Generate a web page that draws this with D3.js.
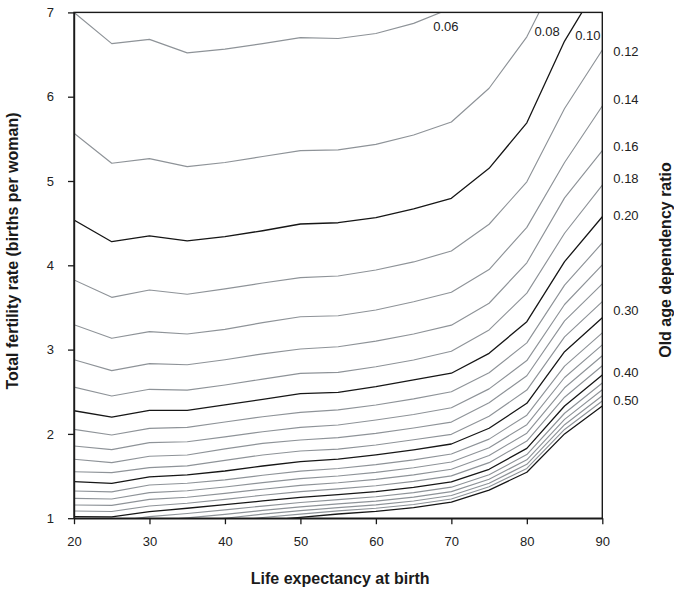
<!DOCTYPE html>
<html>
<head>
<meta charset="utf-8">
<script src="https://cdn.jsdelivr.net/npm/d3@7"></script>
<style>
  html, body { margin: 0; padding: 0; background: #fff; }
  svg { display: block; font-family: "Liberation Sans", Arial, Helvetica, sans-serif; }
</style>
</head>
<body>
<svg id="chart" width="674" height="591"></svg>
<script>
// Life expectancy at birth (x grid shared by every contour)
const lifeExpectancy = [20, 25, 30, 35, 40, 45, 50, 55, 60, 65, 70, 75, 80, 85, 90];

// Total fertility rate giving each old age dependency ratio, one array per contour level
const tfr06 = [7.00, 6.63, 6.68, 6.52, 6.565, 6.63, 6.70, 6.69, 6.75, 6.87, 7.05, 7.55, 8.25, 9.2, 10.2];
const tfr08 = [5.566, 5.21, 5.265, 5.17, 5.22, 5.29, 5.36, 5.37, 5.435, 5.545, 5.70, 6.10, 6.71, 7.60, 8.40];
const tfr10 = [4.537, 4.28, 4.35, 4.29, 4.34, 4.41, 4.49, 4.505, 4.565, 4.67, 4.795, 5.15, 5.69, 6.66, 7.40];
const tfr12 = [3.826, 3.62, 3.707, 3.656, 3.72, 3.79, 3.853, 3.873, 3.944, 4.04, 4.17, 4.487, 4.99, 5.86, 6.554];
const tfr14 = [3.295, 3.134, 3.213, 3.185, 3.24, 3.32, 3.39, 3.402, 3.47, 3.568, 3.68, 3.95, 4.45, 5.22, 5.89];
const tfr16 = [2.88, 2.75, 2.833, 2.82, 2.88, 2.95, 3.007, 3.034, 3.10, 3.185, 3.29, 3.55, 4.03, 4.80, 5.36];
const tfr18 = [2.555, 2.45, 2.529, 2.52, 2.58, 2.65, 2.718, 2.73, 2.797, 2.877, 2.98, 3.233, 3.67, 4.38, 4.95];
const tfr20 = [2.275, 2.20, 2.28, 2.28, 2.345, 2.41, 2.478, 2.493, 2.56, 2.64, 2.72, 2.956, 3.331, 4.043, 4.576];
const tfr22 = [2.054, 1.987, 2.066, 2.078, 2.141, 2.204, 2.256, 2.285, 2.343, 2.415, 2.50, 2.725, 3.08, 3.765, 4.265];
const tfr24 = [1.857, 1.813, 1.896, 1.907, 1.964, 2.026, 2.078, 2.105, 2.165, 2.23, 2.31, 2.534, 2.87, 3.535, 4.005];
const tfr26 = [1.699, 1.66, 1.735, 1.75, 1.823, 1.888, 1.928, 1.955, 2.007, 2.07, 2.14, 2.369, 2.69, 3.34, 3.78];
const tfr28 = [1.551, 1.54, 1.60, 1.62, 1.686, 1.75, 1.797, 1.82, 1.868, 1.93, 1.995, 2.209, 2.52, 3.15, 3.57];
const tfr30 = [1.433, 1.414, 1.49, 1.513, 1.56, 1.619, 1.67, 1.70, 1.75, 1.81, 1.88, 2.067, 2.363, 2.975, 3.378];
const tfr32 = [1.323, 1.312, 1.394, 1.414, 1.454, 1.509, 1.558, 1.59, 1.635, 1.692, 1.761, 1.938, 2.222, 2.804, 3.198];
const tfr34 = [1.236, 1.228, 1.303, 1.326, 1.37, 1.422, 1.47, 1.50, 1.543, 1.599, 1.666, 1.836, 2.109, 2.669, 3.056];
const tfr36 = [1.157, 1.152, 1.224, 1.248, 1.294, 1.344, 1.39, 1.42, 1.46, 1.514, 1.58, 1.743, 2.008, 2.547, 2.927];
const tfr38 = [1.085, 1.08, 1.145, 1.177, 1.224, 1.272, 1.316, 1.348, 1.385, 1.437, 1.502, 1.659, 1.915, 2.435, 2.809];
const tfr40 = [1.018, 1.015, 1.077, 1.118, 1.16, 1.205, 1.248, 1.28, 1.315, 1.365, 1.43, 1.58, 1.829, 2.331, 2.70];
const tfr42 = [0.961, 0.959, 1.018, 1.056, 1.098, 1.144, 1.186, 1.22, 1.254, 1.303, 1.368, 1.516, 1.755, 2.245, 2.604];
const tfr44 = [0.913, 0.912, 0.968, 1.004, 1.045, 1.092, 1.134, 1.17, 1.202, 1.25, 1.315, 1.462, 1.693, 2.172, 2.523];
const tfr46 = [0.872, 0.871, 0.925, 0.959, 1.0, 1.048, 1.089, 1.126, 1.158, 1.204, 1.269, 1.415, 1.639, 2.109, 2.453];
const tfr48 = [0.835, 0.834, 0.886, 0.918, 0.958, 1.008, 1.048, 1.087, 1.118, 1.163, 1.228, 1.373, 1.59, 2.053, 2.39];
const tfr50 = [0.80, 0.80, 0.85, 0.88, 0.92, 0.97, 1.01, 1.05, 1.08, 1.125, 1.19, 1.334, 1.545, 2.0, 2.331];

// Contour levels (old age dependency ratio) in the same order as the arrays above
const ratioLevels = [0.06, 0.08, 0.10, 0.12, 0.14, 0.16, 0.18, 0.20, 0.22, 0.24, 0.26, 0.28,
                     0.30, 0.32, 0.34, 0.36, 0.38, 0.40, 0.42, 0.44, 0.46, 0.48, 0.50];
const fertilitySeries = [tfr06, tfr08, tfr10, tfr12, tfr14, tfr16, tfr18, tfr20, tfr22, tfr24, tfr26, tfr28,
                         tfr30, tfr32, tfr34, tfr36, tfr38, tfr40, tfr42, tfr44, tfr46, tfr48, tfr50];
// Levels drawn as dark lines
const majorLevels = [0.10, 0.20, 0.30, 0.40, 0.50];

// Axis ticks
const xTicks = [20, 30, 40, 50, 60, 70, 80, 90];
const yTicks = [1, 2, 3, 4, 5, 6, 7];

// Level labels: along the top edge and down the right side
const topLabelLevels = [0.06, 0.08, 0.10];
const topLabelAt = [[67.6, 6.78], [81.0, 6.72], [86.4, 6.67]];   // [life expectancy, TFR] of text start
const sideLabelLevels = [0.12, 0.14, 0.16, 0.18, 0.20, 0.30, 0.40, 0.50];
const sideLabelTfr = [6.534, 5.973, 5.404, 5.036, 4.586, 3.46, 2.727, 2.40];

const contours = ratioLevels.map((level, i) => ({
  level,
  major: majorLevels.some(m => Math.abs(m - level) < 1e-9),
  points: lifeExpectancy.map((e, j) => [e, fertilitySeries[i][j]])
}));

const svg = d3.select("#chart");
const W = 674, H = 591;
const margin = { top: 12.4, right: 71.7, bottom: 72.8, left: 74 };
const plotW = W - margin.left - margin.right;
const plotH = H - margin.top - margin.bottom;

const x = d3.scaleLinear().domain([20, 90]).range([margin.left, margin.left + plotW]);
const y = d3.scaleLinear().domain([1, 7]).range([margin.top + plotH, margin.top]);

svg.append("defs").append("clipPath").attr("id", "plot-clip")
  .append("rect")
  .attr("x", x(20)).attr("y", y(7))
  .attr("width", x(90) - x(20)).attr("height", y(1) - y(7));

const line = d3.line().x(d => x(d[0])).y(d => y(d[1]));

// Gray contours first, dark contours on top
const lines = svg.append("g").attr("clip-path", "url(#plot-clip)");
lines.selectAll("path")
  .data(contours.slice().sort((a, b) => a.major - b.major))
  .join("path")
  .attr("d", d => line(d.points))
  .attr("fill", "none")
  .attr("stroke", d => d.major ? "#161616" : "#8e9398")
  .attr("stroke-width", d => d.major ? 1.3 : 1.15)
  .attr("stroke-linejoin", "round");

// Frame
svg.append("rect")
  .attr("x", x(20)).attr("y", y(7))
  .attr("width", x(90) - x(20)).attr("height", y(1) - y(7))
  .attr("fill", "none").attr("stroke", "#1a1a1a").attr("stroke-width", 1.4);

// Axes
const fmt = d3.format("d");
const xAxis = svg.append("g")
  .attr("transform", `translate(0,${y(1)})`)
  .call(d3.axisBottom(x).tickValues(xTicks).tickFormat(fmt).tickSize(6).tickPadding(13).tickSizeOuter(0));
const yAxis = svg.append("g")
  .attr("transform", `translate(${x(20)},0)`)
  .call(d3.axisLeft(y).tickValues(yTicks).tickFormat(fmt).tickSize(6).tickPadding(14).tickSizeOuter(0));

[xAxis, yAxis].forEach(g => {
  g.select(".domain").attr("stroke", "#1a1a1a").attr("stroke-width", 1.4);
  g.selectAll(".tick line").attr("stroke", "#1a1a1a").attr("stroke-width", 1.3);
  g.selectAll(".tick text")
    .attr("fill", "#222")
    .style("font-size", "13px")
    .style("font-family", "'Liberation Sans', Arial, sans-serif");
});

// Contour level labels
const labelFmt = d3.format(".2f");
svg.append("g").selectAll("text")
  .data(topLabelLevels.map((lv, i) => ({ lv, at: topLabelAt[i] })))
  .join("text")
  .attr("x", d => x(d.at[0]))
  .attr("y", d => y(d.at[1]))
  .attr("fill", "#222")
  .style("font-size", "13px")
  .text(d => labelFmt(d.lv));

svg.append("g").selectAll("text")
  .data(sideLabelLevels.map((lv, i) => ({ lv, t: sideLabelTfr[i] })))
  .join("text")
  .attr("x", x(90) + 11)
  .attr("y", d => y(d.t))
  .attr("dy", "0.35em")
  .attr("fill", "#222")
  .style("font-size", "13px")
  .text(d => labelFmt(d.lv));

// Axis titles
svg.append("text")
  .attr("x", (x(20) + x(90)) / 2 + 2)
  .attr("y", 584)
  .attr("text-anchor", "middle")
  .style("font-size", "16px").style("font-weight", "bold").attr("fill", "#1a1a1a")
  .text("Life expectancy at birth");

svg.append("text")
  .attr("transform", "translate(18,251) rotate(-90)")
  .attr("text-anchor", "middle")
  .style("font-size", "16px").style("font-weight", "bold").attr("fill", "#1a1a1a")
  .text("Total fertility rate (births per woman)");

svg.append("text")
  .attr("transform", "translate(671,260) rotate(-90)")
  .attr("text-anchor", "middle")
  .style("font-size", "16px").style("font-weight", "bold").attr("fill", "#1a1a1a")
  .text("Old age dependency ratio");
</script>
</body>
</html>
